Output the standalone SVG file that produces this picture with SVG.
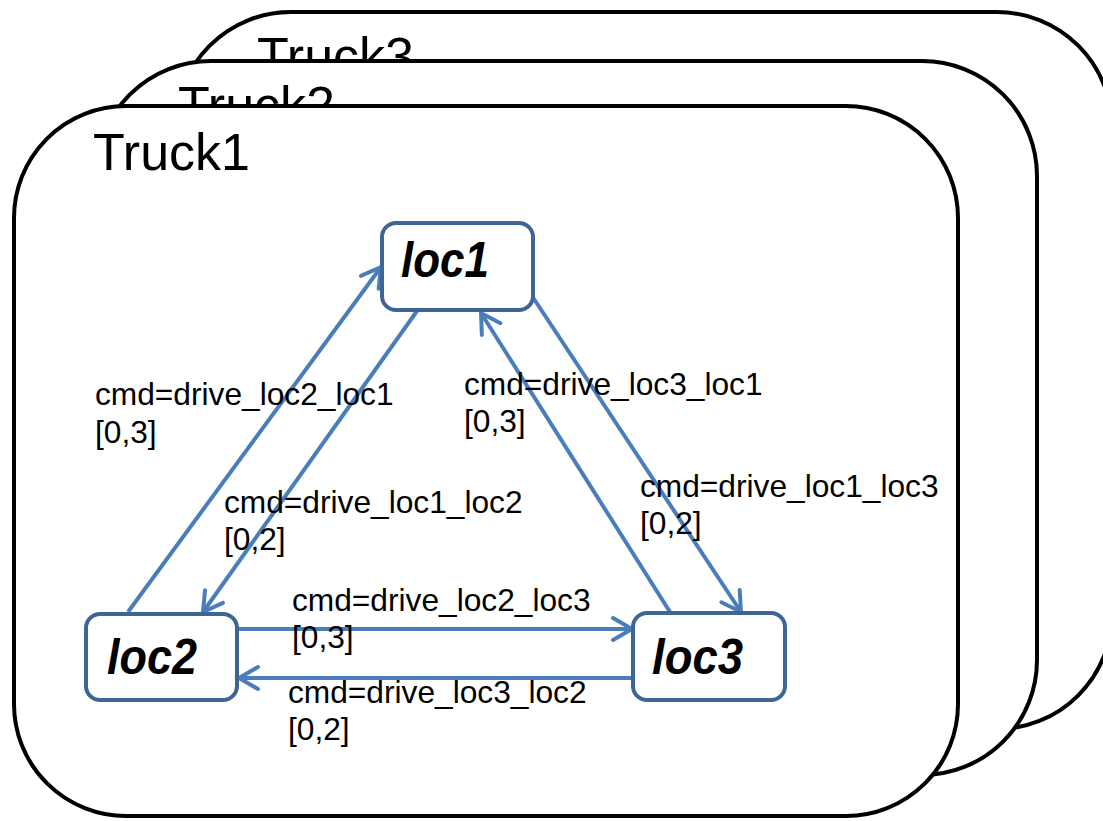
<svg xmlns="http://www.w3.org/2000/svg" width="1103" height="821" viewBox="0 0 1103 821">
  <style>
    .truck { fill: #ffffff; stroke: #000000; stroke-width: 4; }
    .truck-label { font-family: "Liberation Sans", Arial, sans-serif; font-size: 52px; fill: #000000; }
    .state { fill: #ffffff; stroke: #3F6594; stroke-width: 4; }
    .state-label { font-family: "Liberation Sans", Arial, sans-serif; font-size: 50px; font-weight: bold; font-style: italic; fill: #000000; }
    .edge { fill: none; stroke: #4A7EBB; stroke-width: 4; marker-end: url(#arrow); }
    .edge-label { font-family: "Liberation Sans", Arial, sans-serif; font-size: 31.7px; fill: #000000; }
  </style>
  <defs>
    <marker id="arrow" markerUnits="userSpaceOnUse" viewBox="-24 -14 28 28" markerWidth="28" markerHeight="28" refX="0" refY="0" orient="auto" overflow="visible">
      <path d="M-19,-11 L0,0 L-19,11" fill="none" stroke="#4A7EBB" stroke-width="4" stroke-linecap="round" stroke-linejoin="round"/>
    </marker>
  </defs>

  <rect width="1103" height="821" fill="#ffffff"/>

  <!-- stacked truck containers, back to front -->
  <g id="truck3">
    <rect class="truck" x="176" y="12" width="936" height="717" rx="115" ry="115"/>
    <text class="truck-label" x="257" y="74">Truck3</text>
  </g>
  <g id="truck2">
    <rect class="truck" x="96" y="61" width="941" height="714" rx="115" ry="115"/>
    <text class="truck-label" x="178" y="123">Truck2</text>
  </g>
  <g id="truck1">
    <rect class="truck" x="14" y="106" width="944" height="710" rx="112" ry="112"/>
    <text class="truck-label" x="93" y="170">Truck1</text>
  </g>

  <!-- transitions -->
  <g id="connectors">
    <line class="edge" x1="128" y1="612" x2="381" y2="267"/>
    <line class="edge" x1="417" y1="311" x2="203" y2="612"/>
    <line class="edge" x1="670" y1="612" x2="481" y2="313"/>
    <line class="edge" x1="532" y1="296" x2="741" y2="612"/>
    <line class="edge" x1="238" y1="629" x2="632" y2="629"/>
    <line class="edge" x1="636" y1="678" x2="239" y2="678"/>

    <text class="edge-label" x="95" y="405">cmd=drive_loc2_loc1</text>
    <text class="edge-label" x="95" y="443">[0,3]</text>

    <text class="edge-label" x="224" y="513">cmd=drive_loc1_loc2</text>
    <text class="edge-label" x="224" y="550">[0,2]</text>

    <text class="edge-label" x="464" y="395">cmd=drive_loc3_loc1</text>
    <text class="edge-label" x="464" y="432">[0,3]</text>

    <text class="edge-label" x="640" y="497">cmd=drive_loc1_loc3</text>
    <text class="edge-label" x="640" y="534">[0,2]</text>

    <text class="edge-label" x="292" y="611">cmd=drive_loc2_loc3</text>
    <text class="edge-label" x="292" y="648">[0,3]</text>

    <text class="edge-label" x="288" y="703">cmd=drive_loc3_loc2</text>
    <text class="edge-label" x="288" y="740">[0,2]</text>
  </g>

  <!-- locations -->
  <g id="loc1">
    <rect class="state" x="382" y="223" width="151" height="87" rx="14" ry="14"/>
    <text class="state-label" x="401" y="277" textLength="88" lengthAdjust="spacingAndGlyphs">loc1</text>
  </g>
  <g id="loc2">
    <rect class="state" x="86" y="614" width="151" height="86" rx="14" ry="14"/>
    <text class="state-label" x="107" y="674" textLength="90" lengthAdjust="spacingAndGlyphs">loc2</text>
  </g>
  <g id="loc3">
    <rect class="state" x="633" y="613" width="152" height="87" rx="14" ry="14"/>
    <text class="state-label" x="652" y="674" textLength="91" lengthAdjust="spacingAndGlyphs">loc3</text>
  </g>
</svg>
